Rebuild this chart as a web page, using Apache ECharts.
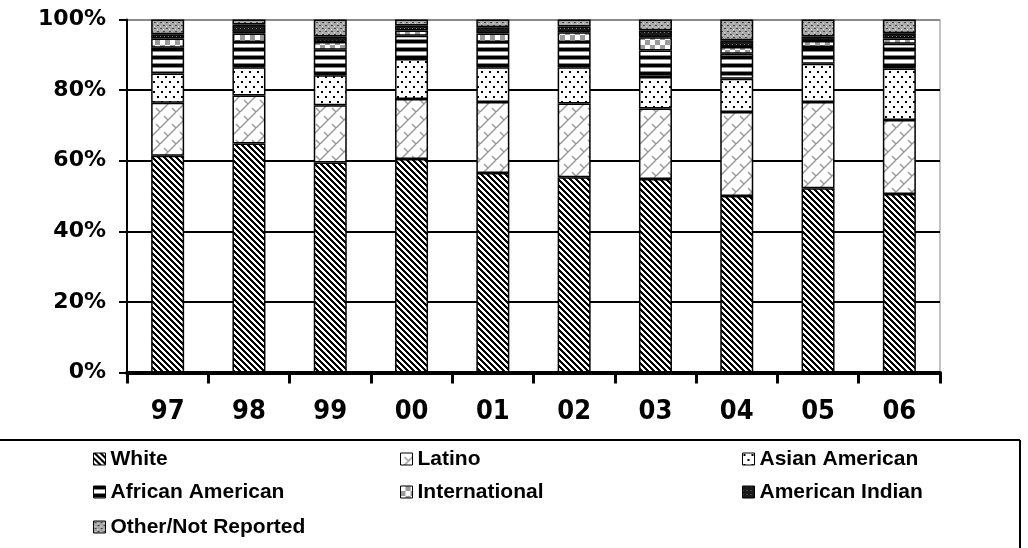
<!DOCTYPE html>
<html>
<head>
<meta charset="utf-8">
<script src="https://cdn.jsdelivr.net/npm/echarts@6/dist/echarts.min.js"></script>
<style>
html,body{margin:0;padding:0;background:#fff;}
#chart{width:1028px;height:548px;}
</style>
</head>
<body>
<div id="chart"></div>
<script>
const categories = ['97','98','99','00','01','02','03','04','05','06'];
const yTicks = [0, 20, 40, 60, 80, 100];
const seriesNames = ['White','Latino','Asian American','African American','International','American Indian','Other/Not Reported'];
const white         = [61.4,64.9,59.5,60.5,56.5,55.3,54.8,50.0,52.2,50.6];
const latino        = [15.0,13.6,16.2,17.0,20.1,20.9,20.0,23.8,24.4,20.9];
const asian         = [8.3,8.0,8.5,11.3,9.9,10.3,8.9,9.4,10.9,14.6];
const african       = [7.3,7.1,7.2,6.6,7.1,7.1,7.5,7.1,4.7,7.0];
const international = [2.6,2.4,2.2,1.5,2.4,2.8,3.8,1.9,1.7,1.5];
const amIndian      = [1.2,2.6,1.6,1.4,1.8,1.6,1.9,1.9,1.3,1.5];
const other         = [4.2,1.4,4.8,1.7,2.2,2.0,3.1,5.9,4.8,3.9];
const seriesData = [white, latino, asian, african, international, amIndian, other];

function pixTile(w, h, fn) {
  const c = document.createElement('canvas');
  c.width = w; c.height = h;
  const ctx = c.getContext('2d');
  for (let y = 0; y < h; y++) for (let x = 0; x < w; x++) {
    const col = fn(x, y);
    if (col) { ctx.fillStyle = col; ctx.fillRect(x, y, 1, 1); }
  }
  return c;
}
// patterns
const pWhite = pixTile(6, 6, (x, y) => (((x - y) % 6 + 6) % 6) < 3 ? '#000' : '#fff');
const pLatino = (function(){
  const c = document.createElement('canvas'); c.width = 16; c.height = 16;
  const ctx = c.getContext('2d');
  ctx.fillStyle = '#fff'; ctx.fillRect(0,0,16,16);
  ctx.strokeStyle = '#999'; ctx.lineWidth = 1.5;
  for (let k = -16; k <= 32; k += 16) {
    ctx.beginPath(); ctx.moveTo(k, 16); ctx.lineTo(k + 16, 0); ctx.stroke();
  }
  ctx.beginPath(); ctx.moveTo(4, 4); ctx.lineTo(8, 8); ctx.stroke();
  ctx.beginPath(); ctx.moveTo(12, 12); ctx.lineTo(16, 16); ctx.stroke();
  ctx.beginPath(); ctx.moveTo(-4, -4); ctx.lineTo(0, 0); ctx.stroke();
  return c;
})();
const pAsian = pixTile(8, 10, (x, y) => {
  if ((x === 1 || x === 2) && (y === 1 || y === 2)) return '#000';
  if ((x === 5 || x === 6) && (y === 6 || y === 7)) return '#000';
  return '#fff';
});
const pAfrican = pixTile(4, 8, (x, y) => y < 3 ? '#000' : (y === 3 || y === 7) ? '#888' : '#fff');
const pIntl = pixTile(10, 10, (x, y) => ((x < 5) === (y < 5)) ? '#fff' : '#9a9a9a');
const pAmInd = pixTile(4, 4, (x, y) => (x === 0 && y === 0) ? '#777' : '#1a1a1a');
const pOther = pixTile(6, 6, (x, y) => {
  if ((y === 1 && (x === 1 || x === 2)) || (y === 4 && (x === 4 || x === 5))) return '#444';
  if ((y === 2 && x === 4) || (y === 5 && x === 1)) return '#ddd';
  return '#aaaaaa';
});
const patterns = [pWhite, pLatino, pAsian, pAfrican, pIntl, pAmInd, pOther];

const series = seriesNames.map((name, i) => ({
  name: name,
  type: 'bar',
  stack: 'total',
  barWidth: 33,
  data: seriesData[i],
  itemStyle: {
    color: { image: patterns[i], repeat: 'repeat' },
    borderColor: '#000',
    borderWidth: 1.5
  },
  emphasis: { disabled: true }
}));

const legendPos = [
  [93, 447], [400, 447], [742, 447],
  [93, 480], [400, 480], [742, 480],
  [93, 515]
];
const legends = seriesNames.map((name, i) => ({
  data: [name],
  left: legendPos[i][0],
  top: legendPos[i][1],
  padding: 0,
  icon: 'rect',
  itemWidth: 12,
  itemHeight: 12,
  selectedMode: false,
  itemStyle: { borderColor: '#000', borderWidth: 1 },
  textStyle: {
    fontFamily: 'Liberation Sans, Arial, sans-serif',
    fontWeight: 'bold',
    fontSize: 21,
    color: '#000',
    lineHeight: 24
  }
}));

const chart = echarts.init(document.getElementById('chart'), null, { renderer: 'canvas' });
chart.setOption({
  animation: false,
  backgroundColor: '#fff',
  grid: {
    left: 127, right: 88, top: 19.5, bottom: 175.5,
    show: true, borderColor: '#8a8a8a', borderWidth: 1, backgroundColor: 'transparent'
  },
  legend: legends,
  xAxis: {
    type: 'category',
    data: categories,
    boundaryGap: true,
    axisLine: { show: true, lineStyle: { color: '#000', width: 4 } },
    axisTick: { show: true, interval: 0, length: 11, lineStyle: { color: '#000', width: 3 } },
    axisLabel: {
      interval: 0,
      margin: 26,
      fontFamily: 'Liberation Sans Narrow, DejaVu Sans Condensed, Liberation Sans, sans-serif',
      fontWeight: 'bold',
      fontSize: 27,
      color: '#000'
    },
    splitLine: { show: false }
  },
  yAxis: {
    type: 'value',
    min: yTicks[0],
    max: yTicks[yTicks.length - 1],
    interval: 20,
    axisLine: { show: true, lineStyle: { color: '#000', width: 2 } },
    axisTick: { show: true, length: 8, lineStyle: { color: '#000', width: 2 } },
    axisLabel: {
      margin: 21,
      formatter: v => v + '%',
      fontFamily: 'DejaVu Sans, Liberation Sans, sans-serif',
      fontWeight: 'bold',
      fontSize: 22,
      color: '#000'
    },
    splitLine: {
      show: true,
      lineStyle: { color: ['#000','#000','#000','#000','#000','#8a8a8a'], width: 2 }
    }
  },
  graphic: [
    { type: 'line', shape: { x1: 0, y1: 440, x2: 1020, y2: 440 }, style: { stroke: '#000', lineWidth: 2 } },
    { type: 'line', shape: { x1: 1020, y1: 440, x2: 1020, y2: 548 }, style: { stroke: '#000', lineWidth: 2 } }
  ],
  series: series
});
</script>
</body>
</html>
